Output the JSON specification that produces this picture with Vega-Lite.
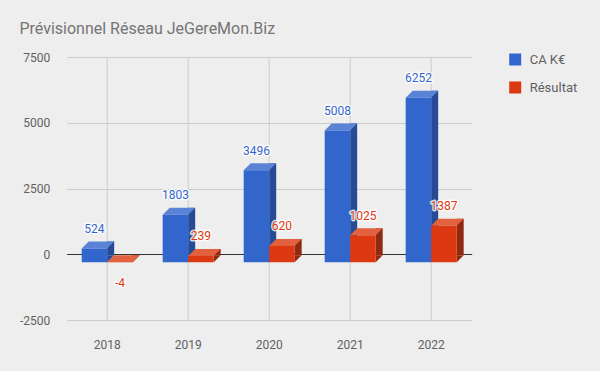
{
  "$schema": "https://vega.github.io/schema/vega-lite/v6.json",
  "width": 423,
  "height": 263,
  "autosize": "none",
  "padding": {"left": 66.7, "top": 57, "right": 110.3, "bottom": 51},
  "background": "#eeeeee",
  "title": {
    "text": "Prévisionnel Réseau JeGereMon.Biz",
    "anchor": "start",
    "baseline": "alphabetic",
    "offset": 1.5,
    "font": "Roboto",
    "fontSize": 16,
    "fontWeight": "normal",
    "color": "#757575"
  },
  "config": {
    "view": {"stroke": null},
    "font": "Roboto"
  },
  "resolve": {"scale": {"xOffset": "independent"}},
  "data": {
    "values": [
      {"year": "2018", "series": "CA K€", "value": 524},
      {"year": "2019", "series": "CA K€", "value": 1803},
      {"year": "2020", "series": "CA K€", "value": 3496},
      {"year": "2021", "series": "CA K€", "value": 5008},
      {"year": "2022", "series": "CA K€", "value": 6252},
      {"year": "2018", "series": "Résultat", "value": -4},
      {"year": "2019", "series": "Résultat", "value": 239},
      {"year": "2020", "series": "Résultat", "value": 620},
      {"year": "2021", "series": "Résultat", "value": 1025},
      {"year": "2022", "series": "Résultat", "value": 1387}
    ]
  },
  "encoding": {
    "x": {
      "field": "year",
      "type": "nominal",
      "scale": {"range": [0, 405], "paddingInner": 0.37, "paddingOuter": 0.185},
      "axis": {
        "title": null,
        "labelAngle": 0,
        "grid": true,
        "bandPosition": 0.5,
        "ticks": false,
        "domain": false,
        "gridColor": "#cccccc",
        "labelColor": "#616161",
        "labelFontSize": 12,
        "labelFont": "Roboto",
        "labelPadding": 19
      }
    },
    "xOffset": {
      "field": "series",
      "type": "nominal",
      "scale": {"type": "band", "domain": ["CA K€", "Résultat"], "paddingInner": 0, "paddingOuter": 0}
    },
    "y": {
      "field": "value",
      "type": "quantitative",
      "scale": {"domain": [-2500, 7500], "nice": false, "zero": false},
      "axis": {
        "title": null,
        "values": [-2500, 0, 2500, 5000, 7500],
        "labelExpr": "datum.value + ''",
        "ticks": false,
        "domain": false,
        "labelPadding": 17,
        "labelColor": "#616161",
        "labelFontSize": 12,
        "labelFont": "Roboto",
        "gridColor": {"condition": {"test": "datum.value === 0", "value": "#333333"}, "value": "#cccccc"}
      }
    }
  },
  "layer": [
    {
      "mark": {"type": "bar", "yOffset": 1, "y2Offset": 1},
      "encoding": {
        "xOffset": {
          "field": "series",
          "type": "nominal",
          "scale": {"type": "band", "domain": ["CA K€", "Résultat"], "range": [25.5, 58], "paddingInner": 0.7255, "paddingOuter": 0}
        },
        "y2": {"datum": 0},
        "color": {"condition": {"test": "datum.series === 'CA K€'", "value": "#264a94"}, "value": "#8f2a10"}
      }
    },
    {
      "mark": {"type": "point", "shape": "M12.75,-7L19.75,-7L12.75,0Z", "size": 4, "filled": true, "opacity": 1, "strokeWidth": 0, "yOffset": 8},
      "encoding": {
        "y": {"datum": 0},
        "color": {"condition": {"test": "datum.series === 'CA K€'", "value": "#264a94"}, "value": "#8f2a10"}
      }
    },
    {
      "mark": {"type": "point", "shape": "M-12.75,0L12.75,0L19.75,-7L-5.75,-7Z", "size": 4, "filled": true, "opacity": 1, "strokeWidth": 0, "yOffset": 8},
      "encoding": {
        "color": {"condition": {"test": "datum.series === 'CA K€'", "value": "#5a83d6"}, "value": "#e2613f"}
      }
    },
    {
      "mark": {"type": "bar", "yOffset": 8, "y2Offset": 8},
      "encoding": {
        "y2": {"datum": 0},
        "color": {
          "field": "series",
          "type": "nominal",
          "scale": {"domain": ["CA K€", "Résultat"], "range": ["#3366cc", "#dc3912"]},
          "legend": {
            "title": null,
            "orient": "none",
            "legendX": 442,
            "legendY": -4,
            "symbolType": "square",
            "symbolSize": 144,
            "symbolStrokeWidth": 0,
            "symbolOpacity": 1,
            "labelFontSize": 13,
            "labelFont": "Roboto",
            "labelColor": "#616161",
            "labelOffset": 8,
            "rowPadding": 14,
            "padding": 0
          }
        }
      }
    },
    {
      "transform": [{"filter": "datum.value >= 0"}],
      "mark": {"type": "text", "dy": -7.5, "baseline": "alphabetic", "fontSize": 12, "font": "Roboto", "stroke": "#ffffff", "strokeWidth": 3, "strokeJoin": "round", "fill": "#ffffff", "strokeOpacity": 0.8},
      "encoding": {"text": {"field": "value", "type": "nominal"}}
    },
    {
      "transform": [{"filter": "datum.value < 0"}],
      "mark": {"type": "text", "dy": 33, "baseline": "alphabetic", "fontSize": 12, "font": "Roboto", "stroke": "#ffffff", "strokeWidth": 3, "strokeJoin": "round", "fill": "#ffffff", "strokeOpacity": 0.8},
      "encoding": {"text": {"field": "value", "type": "nominal"}}
    },
    {
      "transform": [{"filter": "datum.value >= 0"}],
      "mark": {"type": "text", "dy": -7.5, "baseline": "alphabetic", "fontSize": 12, "font": "Roboto"},
      "encoding": {
        "text": {"field": "value", "type": "nominal"},
        "color": {"condition": {"test": "datum.series === 'CA K€'", "value": "#3366cc"}, "value": "#dc3912"}
      }
    },
    {
      "transform": [{"filter": "datum.value < 0"}],
      "mark": {"type": "text", "dy": 33, "baseline": "alphabetic", "fontSize": 12, "font": "Roboto"},
      "encoding": {
        "text": {"field": "value", "type": "nominal"},
        "color": {"condition": {"test": "datum.series === 'CA K€'", "value": "#3366cc"}, "value": "#dc3912"}
      }
    }
  ]
}
